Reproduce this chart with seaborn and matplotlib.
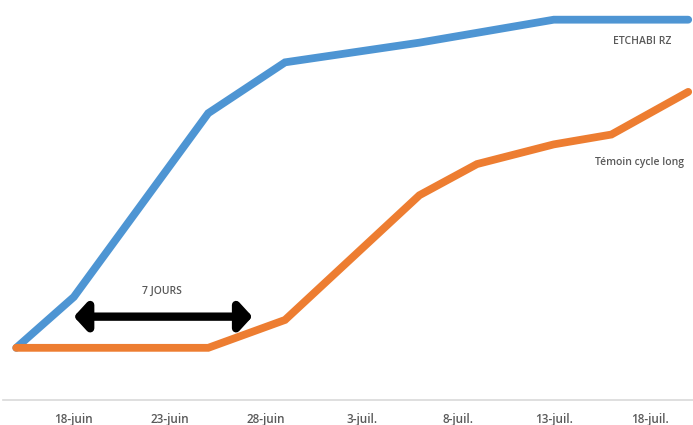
import numpy as np
import pandas as pd
import matplotlib.pyplot as plt
import matplotlib.dates as mdates
import seaborn as sns

# Données (en % de la valeur finale)
dates_etchabi = ['2019-06-15', '2019-06-18', '2019-06-25', '2019-06-29',
                 '2019-07-06', '2019-07-13', '2019-07-20']
valeurs_etchabi = [0, 15.5, 71.5, 87, 93, 100, 100]

dates_temoin = ['2019-06-15', '2019-06-25', '2019-06-29', '2019-07-06',
                '2019-07-09', '2019-07-13', '2019-07-16', '2019-07-20']
valeurs_temoin = [0, 0, 8.5, 46.5, 56, 62, 65, 78]

ticks_dates = ['2019-06-18', '2019-06-23', '2019-06-28', '2019-07-03',
               '2019-07-08', '2019-07-13', '2019-07-18']
ticks_labels = ['18-juin', '23-juin', '28-juin', '3-juil.',
                '8-juil.', '13-juil.', '18-juil.']

series = ['ETCHABI RZ', 'Témoin cycle long']
couleurs = ['#4E95D3', '#ED7D31']

df = pd.concat([
    pd.DataFrame({'date': pd.to_datetime(dates_etchabi), 'valeur': valeurs_etchabi, 'serie': series[0]}),
    pd.DataFrame({'date': pd.to_datetime(dates_temoin), 'valeur': valeurs_temoin, 'serie': series[1]}),
])

sns.set_theme(style='white')
plt.rcParams['font.family'] = ['Open Sans', 'DejaVu Sans']

fig = plt.figure(figsize=(6.93, 4.25), dpi=100)
ax = fig.add_axes([3 / 693, 25 / 425, 690 / 693, 400 / 425])

sns.lineplot(data=df, x='date', y='valeur', hue='serie', palette=couleurs,
             linewidth=5.6, legend=False, ax=ax, solid_capstyle='round',
             solid_joinstyle='miter')

d0 = mdates.date2num(pd.Timestamp('2019-06-18'))
ax.set_xlim(d0 - 3.69, d0 + 32.25)
ax.set_ylim(-15.9, 106)

ax.set_xticks(pd.to_datetime(ticks_dates))
ax.set_xticklabels(ticks_labels, fontsize=8.5, fontweight='semibold', color='#595959')
ax.tick_params(axis='x', length=0, pad=9)
ax.set_yticks([])
ax.set_xlabel('')
ax.set_ylabel('')

for s in ['top', 'left', 'right']:
    ax.spines[s].set_visible(False)
ax.spines['bottom'].set_color('#D9D9D9')
ax.spines['bottom'].set_linewidth(1.2)

# Étiquettes des séries
ax.text(d0 + 31.1, 93.5, 'ETCHABI RZ', ha='right', va='center',
        fontsize=7.5, fontweight='semibold', color='#595959')
ax.text(d0 + 31.8, 56.5, 'Témoin cycle long', ha='right', va='center',
        fontsize=7.5, fontweight='semibold', color='#595959')

# Flèche 7 jours
ax.annotate('', xy=(d0, 9.5), xytext=(d0 + 9.3, 9.5),
            arrowprops=dict(arrowstyle='<|-|>,head_length=0.55,head_width=0.6',
                            lw=6, color='black', mutation_scale=14,
                            shrinkA=0, shrinkB=0))
ax.text(d0 + 4.6, 17.2, '7 JOURS', ha='center', va='center',
        fontsize=7.5, fontweight='semibold', color='#595959')

fig.savefig('out.png', dpi=100)
